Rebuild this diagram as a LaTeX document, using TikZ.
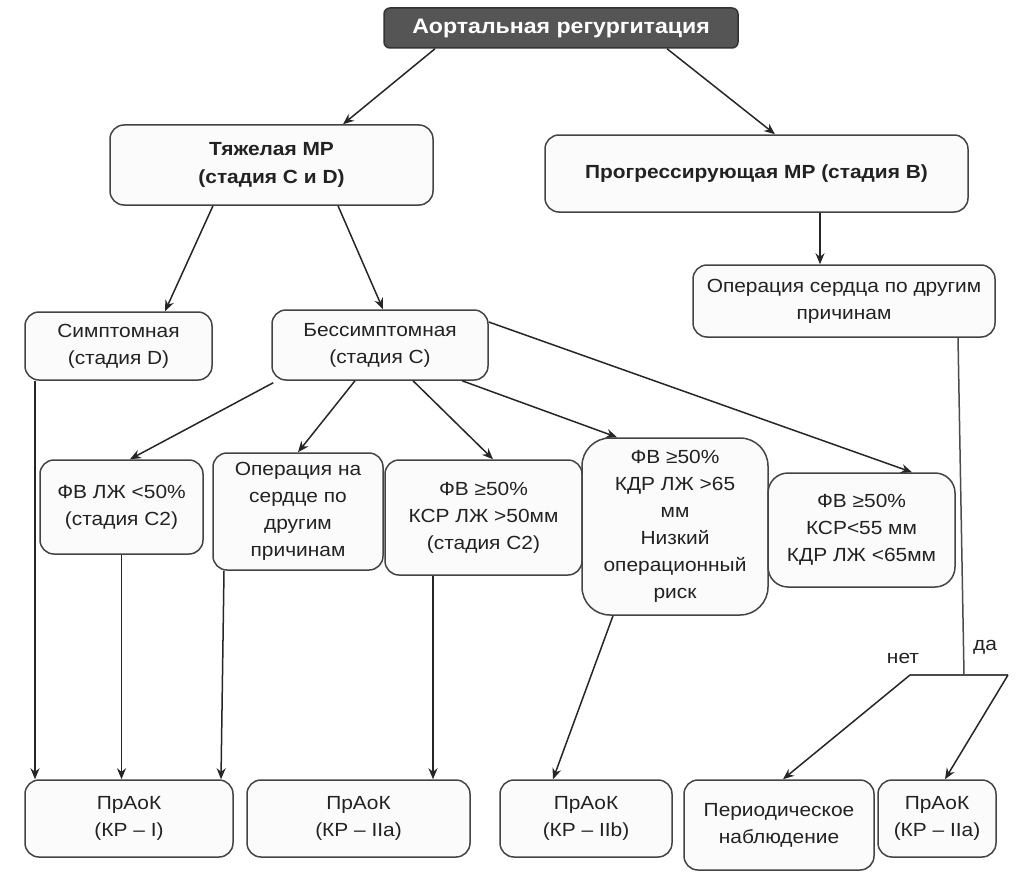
\documentclass[tikz,border=0pt]{standalone}
\usepackage{fontspec}
\setmainfont{Liberation Sans}[FakeStretch=1.1]
\usetikzlibrary{arrows.meta}
\definecolor{boxline}{HTML}{444444}
\definecolor{boxfill}{HTML}{FBFBFB}
\definecolor{topfill}{HTML}{555555}
\definecolor{txt}{HTML}{222222}
\begin{document}
\begin{tikzpicture}[x=1pt,y=-1pt,
  box/.style={draw=boxline, fill=boxfill, line width=1.5pt, rounded corners=14pt, text=txt,
    align=center, inner sep=2pt, font=\fontsize{19}{27}\selectfont},
  boldbox/.style={box, font=\fontsize{19}{28}\selectfont\bfseries},
  topbox/.style={draw=black!80, fill=topfill, text=white, line width=1.5pt, rounded corners=6pt,
    align=center, font=\fontsize{21}{25}\selectfont\bfseries},
  conn/.style={line width=1.5pt, draw=black!85, -{Stealth[length=11pt,width=9pt]}},
  plain/.style={line width=1.5pt, draw=black!70},
  lbl/.style={font=\fontsize{19}{22}\selectfont, inner sep=0pt, text=txt}
]
\useasboundingbox (0,0) rectangle (1019,872);

\node[topbox, minimum width=354pt, minimum height=40pt] (top) at (561,28) {Аортальная регургитация};
\node[boldbox, minimum width=323pt, minimum height=80pt] (t) at (271.5,165) {Тяжелая МР\\(стадия С и D)};
\node[boldbox, minimum width=423pt, minimum height=77pt] (p) at (756.5,173.5) {Прогрессирующая МР (стадия В)};
\node[box, minimum width=302pt, minimum height=72pt] (op) at (844,301) {Операция сердца по другим\\причинам};
\node[box, minimum width=187pt, minimum height=68pt] (s) at (118.5,346) {Симптомная\\(стадия D)};
\node[box, minimum width=216pt, minimum height=70pt] (b) at (380,345) {Бессимптомная\\(стадия С)};
\node[box, minimum width=163pt, minimum height=94pt] (f1) at (121.5,507) {ФВ ЛЖ <50\%\\(стадия С2)};
\node[box, minimum width=170pt, minimum height=117pt] (f2) at (298,511.5) {Операция на\\сердце по\\другим\\причинам};
\node[box, minimum width=197pt, minimum height=115pt] (f3) at (483.5,517.5) {ФВ ≥50\%\\КСР ЛЖ >50мм\\(стадия С2)};
\node[box, rounded corners=28pt, minimum width=186pt, minimum height=177pt] (f4) at (675,526.5) {ФВ ≥50\%\\КДР ЛЖ >65\\мм\\Низкий\\операционный\\риск};
\node[box, rounded corners=20pt, minimum width=187pt, minimum height=114pt] (f5) at (861.5,530) {ФВ ≥50\%\\КСР<55 мм\\КДР ЛЖ <65мм};
\node[box, minimum width=208pt, minimum height=77pt] (r1) at (129,818.5) {ПрАоК\\(КР – I)};
\node[box, minimum width=223pt, minimum height=77pt] (r2) at (358.5,818.5) {ПрАоК\\(КР – IIa)};
\node[box, minimum width=172pt, minimum height=77pt] (r3) at (586,818.5) {ПрАоК\\(КР – IIb)};
\node[box, minimum width=190pt, minimum height=90pt] (r4) at (779,825) {Периодическое\\наблюдение};
\node[box, minimum width=118pt, minimum height=77pt] (r5) at (937,818.5) {ПрАоК\\(КР – IIa)};

\coordinate (jl) at (910,675);
\coordinate (jr) at (1008,675);
\coordinate (jm) at (964,675);
\node[lbl] (no) at (903,658) {нет};
\node[lbl] (yes) at (985,647) {да};

\draw[conn] ([xshift=-126pt]top.south) -- ([xshift=71.5pt]t.north);
\draw[conn] ([xshift=106pt]top.south) -- ([xshift=18.5pt]p.north);
\draw[conn] ([xshift=-58.5pt]t.south) -- ([xshift=46.5pt]s.north);
\draw[conn] ([xshift=66.5pt]t.south) -- ([xshift=3pt]b.north);
\draw[conn] ([xshift=63.5pt]p.south) -- ([xshift=-24pt]op.north);
\draw[conn] ([xshift=2pt,yshift=-2pt]b.south west) -- ([xshift=8.5pt]f1.north);
\draw[conn] ([xshift=-25pt]b.south) -- ([xshift=0pt]f2.north);
\draw[conn] ([xshift=33pt]b.south) -- ([xshift=9.5pt]f3.north);
\draw[conn] ([xshift=82pt]b.south) -- ([xshift=-58pt]f4.north);
\draw[conn] ([yshift=23pt]b.east) -- ([xshift=50.5pt]f5.north);
\draw[conn] ([xshift=-83.5pt]s.south) -- ([xshift=-94pt]r1.north);
\draw[conn] (f1.south) -- ([xshift=-7.5pt]r1.north);
\draw[conn] ([xshift=-74pt]f2.south) -- ([xshift=92pt]r1.north);
\draw[conn] ([xshift=-50.5pt]f3.south) -- ([xshift=74.5pt]r2.north);
\draw[conn] ([xshift=-62pt]f4.south) -- ([xshift=-33pt]r3.north);
\draw[plain] ([xshift=114pt]op.south) -- (jm);
\draw[plain] (jl) -- (jr);
\draw[conn] (jl) -- ([xshift=4pt]r4.north);
\draw[conn] (jr) -- ([xshift=8pt]r5.north);
\end{tikzpicture}
\end{document}
